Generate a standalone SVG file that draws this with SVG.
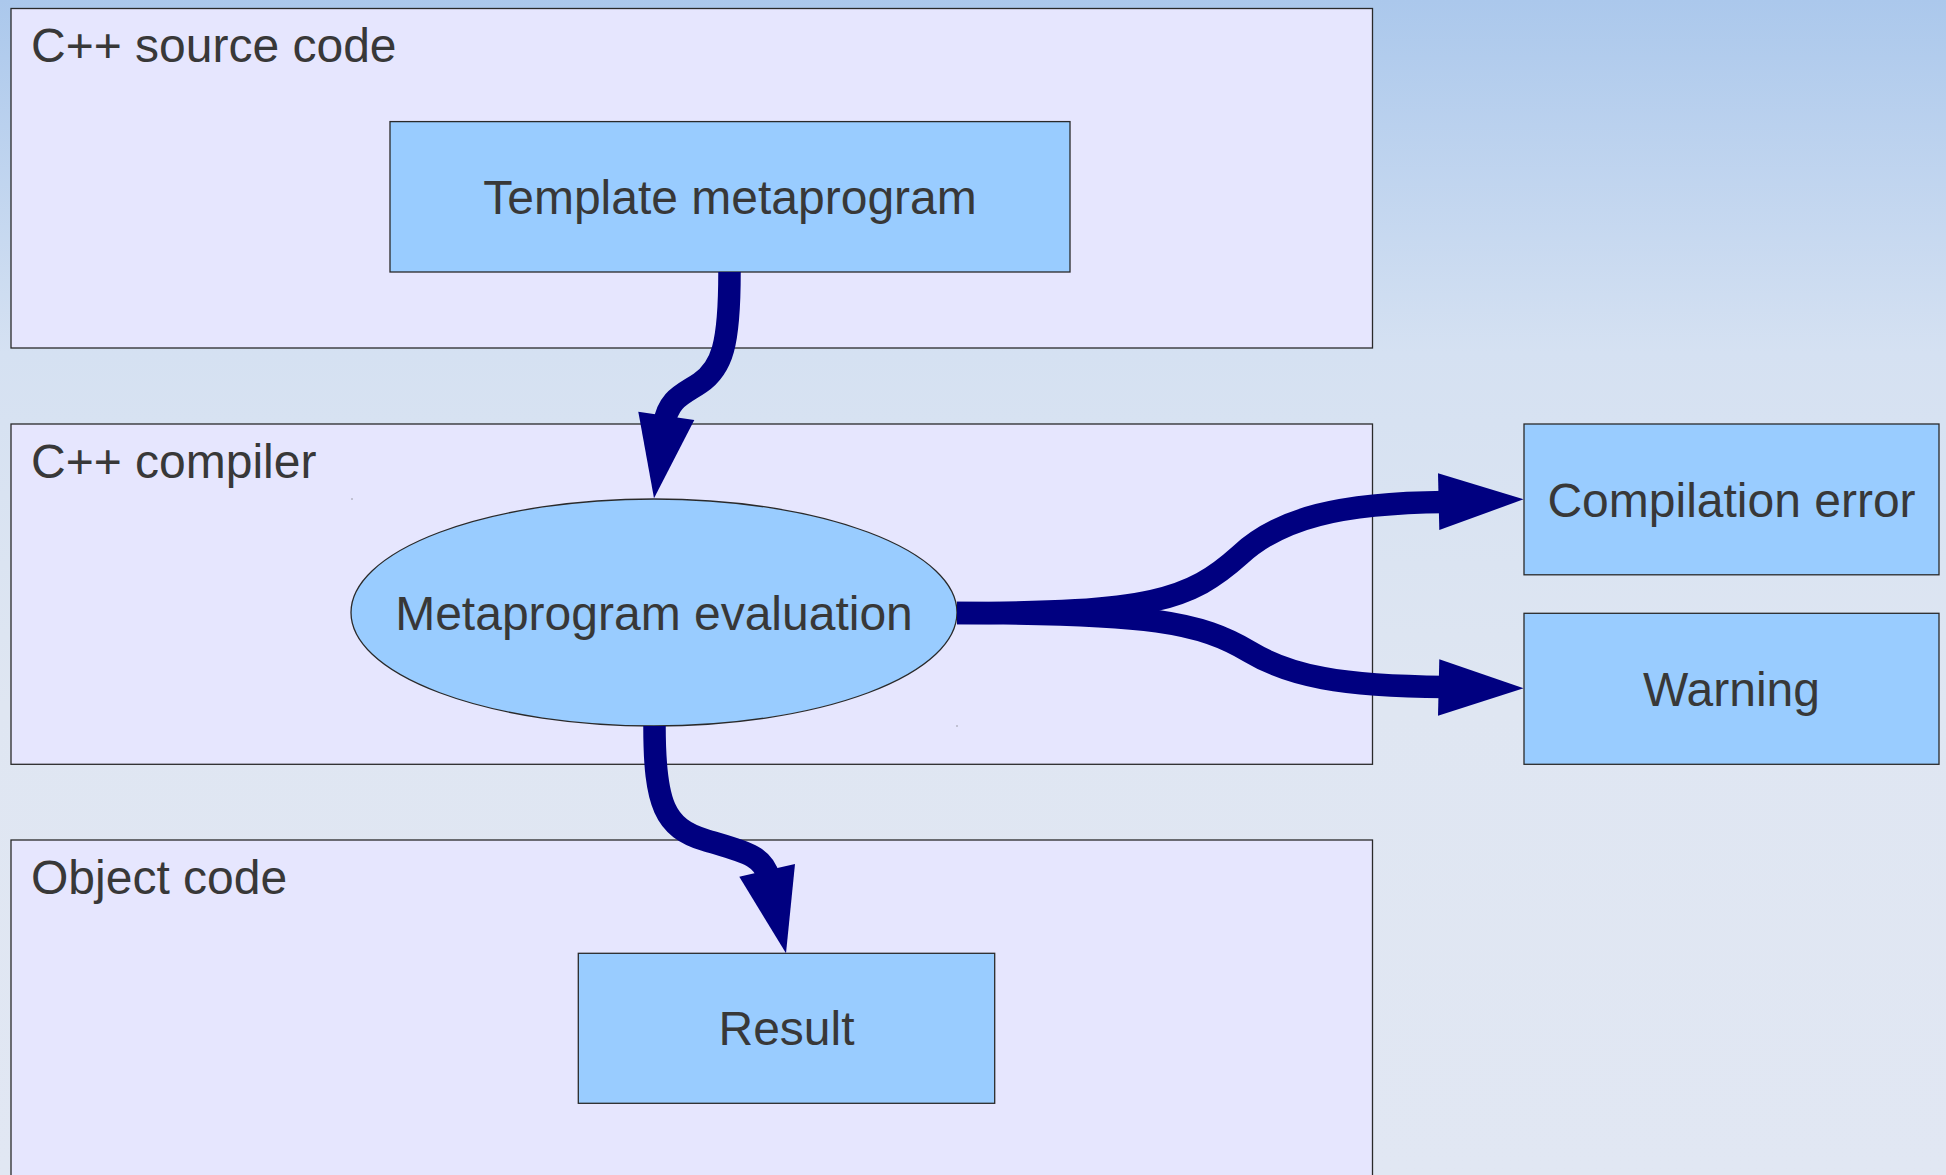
<svg xmlns="http://www.w3.org/2000/svg" width="1946" height="1175" viewBox="0 0 1946 1175">
<defs>
<linearGradient id="bg" x1="0" y1="0" x2="0" y2="1">
<stop offset="0" stop-color="#abc8ec"/>
<stop offset="0.3" stop-color="#d5e1f2"/>
<stop offset="0.6" stop-color="#dfe6f2"/>
<stop offset="1" stop-color="#e1e7f3"/>
</linearGradient>
<style>
.container{fill:#e6e6fe;stroke:#2a2a2a;stroke-width:1.3}
.node{fill:#99ccff;stroke:#2a2a2a;stroke-width:1.3}
.lbl{font-family:"Liberation Sans",Arial,sans-serif;font-size:48px;fill:#383838}
.ctr{text-anchor:middle}
.shaft{fill:none;stroke:#000080;stroke-width:22.5;stroke-linecap:butt}
.head{fill:#000080}
</style>
</defs>
<rect x="0" y="0" width="1946" height="1175" fill="url(#bg)"/>

<g id="cpp-source-code">
<rect class="container" x="11" y="8.5" width="1361.5" height="339.5"/>
<text class="lbl" x="31" y="62">C++ source code</text>
</g>
<g id="cpp-compiler">
<rect class="container" x="11" y="424" width="1361.5" height="340.3"/>
<text class="lbl" x="31" y="477.5">C++ compiler</text>
</g>
<g id="object-code">
<rect class="container" x="11" y="840" width="1361.5" height="360"/>
<text class="lbl" x="31" y="893.5">Object code</text>
</g>

<g id="template-metaprogram">
<rect class="node" x="390" y="121.6" width="680" height="150.4"/>
<text class="lbl ctr" x="730" y="214">Template metaprogram</text>
</g>
<g id="metaprogram-evaluation">
<ellipse class="node" cx="654" cy="612.5" rx="303" ry="113.5" stroke-width="1"/>
<text class="lbl ctr" x="654" y="630">Metaprogram evaluation</text>
</g>
<g id="compilation-error">
<rect class="node" x="1524" y="424" width="415" height="150.8"/>
<text class="lbl ctr" x="1731.5" y="516.5">Compilation error</text>
</g>
<g id="warning">
<rect class="node" x="1524" y="613.3" width="415" height="151"/>
<text class="lbl ctr" x="1731.5" y="705.5">Warning</text>
</g>
<g id="result">
<rect class="node" x="578.3" y="953.3" width="416.4" height="150"/>
<text class="lbl ctr" x="786.5" y="1045">Result</text>
</g>

<g id="connectors">
<path class="shaft" d="M729.5,272 C729.5,345 722,368 700,383 C684,394 668,398 664,425"/>
<polygon class="head" points="638.3,411.7 694.3,420 654,498.3"/>
<path class="shaft" d="M654.5,726 C654.5,805 665,828 705,840 C745,852 763,855 769,878"/>
<polygon class="head" points="739.3,876.7 795,864 786,953.3"/>
<path class="shaft" d="M957,613 C1150,613 1190,600 1240,555 C1280,518 1340,503 1445,502"/>
<polygon class="head" points="1438,473.3 1523.6,499.3 1439.3,530"/>
<path class="shaft" d="M957,613 C1150,613 1200,622 1250,652 C1290,676 1340,686 1445,687"/>
<polygon class="head" points="1439.3,659.3 1523.6,688.3 1438,715.7"/>
</g>
<rect x="351.5" y="498.5" width="1" height="1" fill="#555"/>
<rect x="956.5" y="725.5" width="1" height="1" fill="#555"/>
</svg>
